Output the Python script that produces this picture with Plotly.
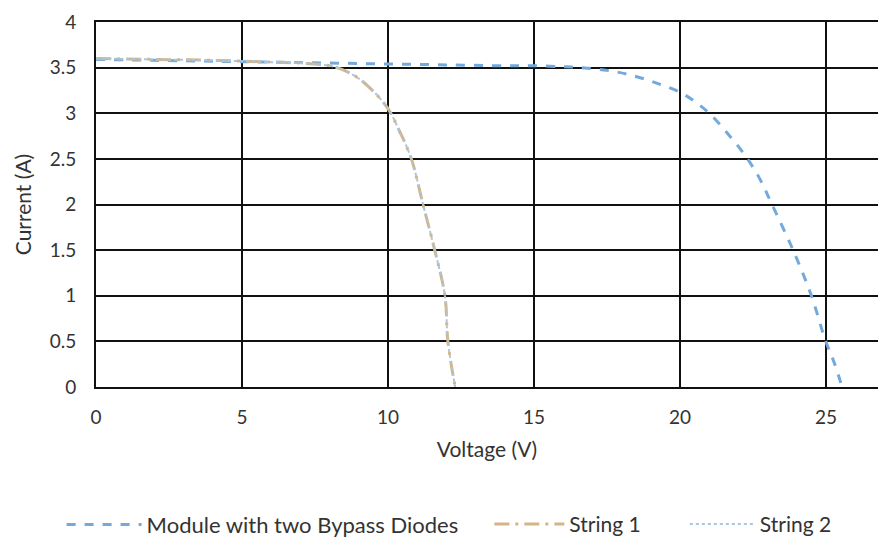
import plotly.graph_objects as go

# Data
module_v = [0, 2, 4, 6, 8, 10, 12, 14, 15, 16, 16.6, 17.5, 18.3, 19.2, 20, 20.5, 21.0, 21.6, 22.2, 22.7, 23.15, 23.9, 24.5, 24.97, 25.3, 25.55]
module_i = [3.59, 3.58, 3.57, 3.56, 3.55, 3.54, 3.53, 3.52, 3.52, 3.51, 3.50, 3.47, 3.42, 3.33, 3.23, 3.13, 3.0, 2.79, 2.55, 2.30, 2.0, 1.48, 1.0, 0.52, 0.25, 0.0]

string1_v = [0, 2, 4, 6, 7, 8, 8.5, 9, 9.5, 10, 10.4, 10.8, 11.2, 11.6, 11.95, 12.05, 12.3]
string1_i = [3.6, 3.59, 3.58, 3.56, 3.55, 3.52, 3.47, 3.38, 3.24, 3.05, 2.8, 2.5, 2.0, 1.5, 1.0, 0.5, 0.0]

string2_v = [0, 2, 4, 6, 7, 8, 8.5, 9, 9.5, 10, 10.4, 10.8, 11.2, 11.6, 11.95, 12.05, 12.3]
string2_i = [3.6, 3.59, 3.58, 3.56, 3.55, 3.52, 3.47, 3.38, 3.24, 3.05, 2.8, 2.5, 2.0, 1.5, 1.0, 0.5, 0.0]

x_ticks = [0, 5, 10, 15, 20, 25]
y_ticks = [0, 0.5, 1, 1.5, 2, 2.5, 3, 3.5, 4]

fig = go.Figure()
fig.add_trace(go.Scatter(x=module_v, y=module_i, mode="lines", name="Module with two Bypass Diodes",
                         legend="legend",
                         line=dict(color="#74A9DB", width=3, dash="dash", shape="spline")))
fig.add_trace(go.Scatter(x=string1_v, y=string1_i, mode="lines", name="String 1",
                         legend="legend2",
                         line=dict(color="#D3B587", width=3, dash="longdashdot", shape="spline")))
fig.add_trace(go.Scatter(x=string2_v, y=string2_i, mode="lines", name="String 2",
                         legend="legend3",
                         line=dict(color="#A8C6E0", width=2, dash="dot", shape="spline")))

font_family = "Lato, Open Sans, sans-serif"
leg_common = dict(orientation="h", y=-0.32, yanchor="top", xanchor="left",
                  bgcolor="rgba(0,0,0,0)")
fig.update_layout(
    width=878, height=541,
    margin=dict(l=96, r=0, t=22, b=154, autoexpand=False),
    plot_bgcolor="white", paper_bgcolor="white",
    font=dict(family=font_family, size=19, color="#333333"),
    showlegend=True,
    legend=dict(x=-0.044, itemwidth=75, font=dict(size=22, color="#333333"), **leg_common),
    legend2=dict(x=0.503, itemwidth=70, font=dict(size=21, color="#333333"), **leg_common),
    legend3=dict(x=0.753, itemwidth=65, font=dict(size=21, color="#333333"), **leg_common),
    xaxis=dict(range=[0, 26.78], tickvals=x_ticks, ticktext=[str(v) for v in x_ticks],
               showgrid=True, gridcolor="#111111", gridwidth=2,
               showline=True, linecolor="#111111", linewidth=2, mirror=True,
               zeroline=False, ticks="", ticklabelstandoff=12,
               title=dict(text="Voltage (V)", font=dict(size=21, color="#333333"), standoff=16)),
    yaxis=dict(range=[0, 4], tickvals=y_ticks, ticktext=[("%g" % v) for v in y_ticks],
               showgrid=True, gridcolor="#111111", gridwidth=2,
               showline=True, linecolor="#111111", linewidth=2,
               zeroline=False, ticks="", ticklabelstandoff=14,
               title=dict(text="Current (A)", font=dict(size=21, color="#333333"), standoff=12)),
)

fig.write_html("out.html")
